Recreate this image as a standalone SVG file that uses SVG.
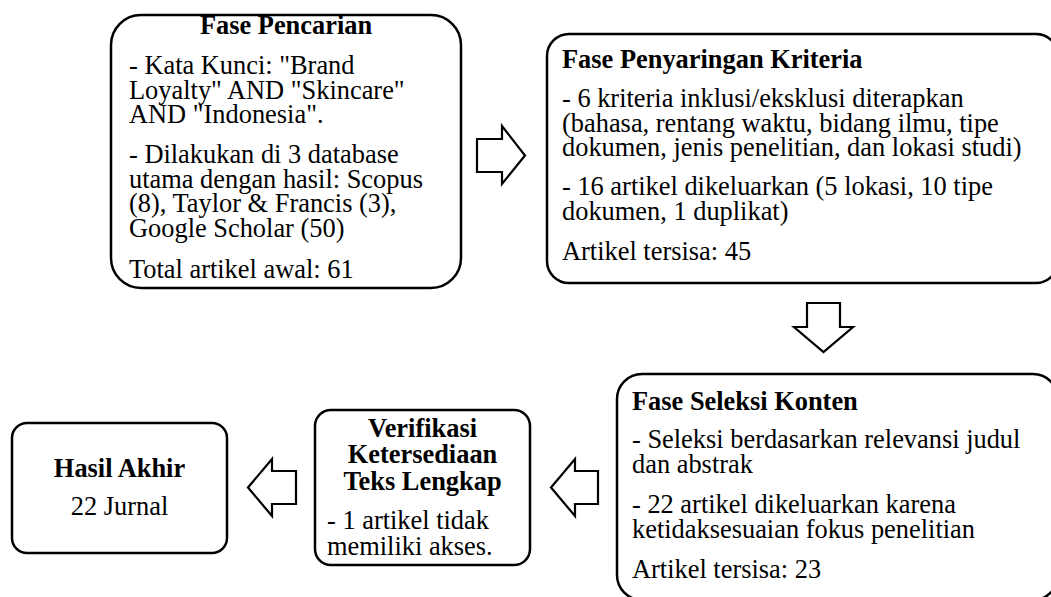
<svg xmlns="http://www.w3.org/2000/svg" width="1051" height="597" viewBox="0 0 1051 597">
<style>
.box{fill:#fff;stroke:#000;stroke-width:2.5}
.arr{fill:#fff;stroke:#000;stroke-width:2.2;stroke-linejoin:miter}
text{font-family:"Liberation Serif","Times New Roman",serif;font-size:26.4px;fill:#000}
.b{font-weight:bold}
.c{text-anchor:middle}
</style>
<rect width="1051" height="597" fill="#fff"/>
<g id="connectors">
<path class="arr" d="M477,139 H502 V126 L525,155.5 L502,184 V172 H477 Z"/>
<path class="arr" d="M807,303 H840 V327 H853 L823.5,352 L794,327 H807 Z"/>
<path class="arr" d="M296,471 H272 V459 L248,487.5 L272,516 V504 H296 Z"/>
<path class="arr" d="M598,471 H575 V459 L551,487.5 L575,516 V504 H598 Z"/>
</g>
<g id="fase-pencarian">
<rect class="box" x="111" y="15" width="350" height="273" rx="30"/>
<text class="b c" x="286" y="34">Fase Pencarian</text>
<text x="129" y="74">- Kata Kunci: "Brand</text>
<text x="129" y="99">Loyalty" AND "Skincare"</text>
<text x="129" y="123">AND "Indonesia".</text>
<text x="129" y="163">- Dilakukan di 3 database</text>
<text x="129" y="188">utama dengan hasil: Scopus</text>
<text x="129" y="212">(8), Taylor &amp; Francis (3),</text>
<text x="129" y="237">Google Scholar (50)</text>
<text x="129" y="278">Total artikel awal: 61</text>
</g>
<g id="fase-penyaringan">
<rect class="box" x="547" y="34" width="511" height="249" rx="22"/>
<text class="b" x="562" y="68">Fase Penyaringan Kriteria</text>
<text x="562" y="107">- 6 kriteria inklusi/eksklusi diterapkan</text>
<text x="562" y="132">(bahasa, rentang waktu, bidang ilmu, tipe</text>
<text x="562" y="156">dokumen, jenis penelitian, dan lokasi studi)</text>
<text x="562" y="195">- 16 artikel dikeluarkan (5 lokasi, 10 tipe</text>
<text x="562" y="220">dokumen, 1 duplikat)</text>
<text x="562" y="260">Artikel tersisa: 45</text>
</g>
<g id="fase-seleksi">
<rect class="box" x="617" y="374" width="441" height="226" rx="25"/>
<text class="b" x="632" y="410">Fase Seleksi Konten</text>
<text x="632" y="448">- Seleksi berdasarkan relevansi judul</text>
<text x="632" y="473">dan abstrak</text>
<text x="632" y="513">- 22 artikel dikeluarkan karena</text>
<text x="632" y="538">ketidaksesuaian fokus penelitian</text>
<text x="632" y="578">Artikel tersisa: 23</text>
</g>
<g id="verifikasi">
<rect class="box" x="315" y="410" width="215" height="155" rx="16"/>
<text class="b c" x="422.5" y="437">Verifikasi</text>
<text class="b c" x="422.5" y="463">Ketersediaan</text>
<text class="b c" x="422.5" y="490">Teks Lengkap</text>
<text x="327" y="529">- 1 artikel tidak</text>
<text x="327" y="555">memiliki akses.</text>
</g>
<g id="hasil-akhir">
<rect class="box" x="12" y="423" width="215" height="130" rx="15"/>
<text class="b c" x="119.5" y="477">Hasil Akhir</text>
<text class="c" x="119.5" y="515">22 Jurnal</text>
</g>
</svg>
